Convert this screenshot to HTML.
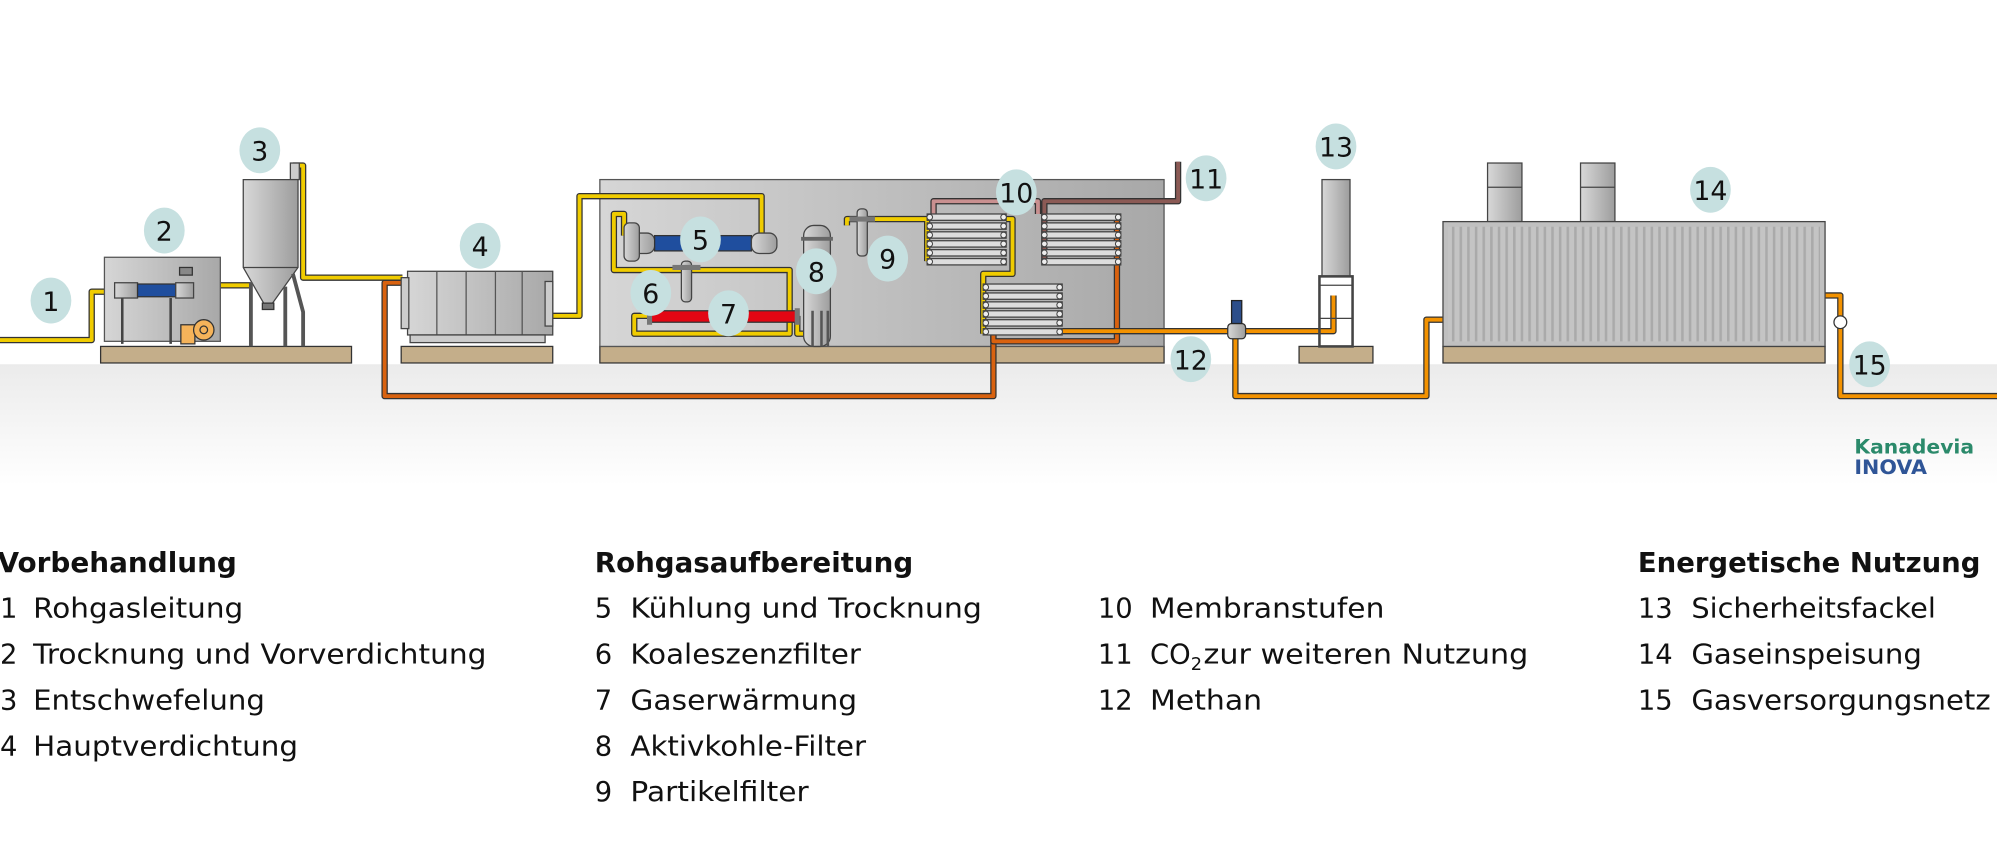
<!DOCTYPE html>
<html><head><meta charset="utf-8"><style>
html,body{margin:0;padding:0;background:#fff;}
svg{display:block;}
text{font-family:"DejaVu Sans","Liberation Sans",sans-serif;}
</style></head><body>
<svg width="1997" height="849" viewBox="0 0 1568 666.6" preserveAspectRatio="none" xmlns="http://www.w3.org/2000/svg">
<defs>
<linearGradient id="gnd" x1="0" y1="0" x2="0" y2="1"><stop offset="0" stop-color="#ebebeb"/><stop offset="1" stop-color="#fff"/></linearGradient>
<linearGradient id="met" x1="0" y1="0" x2="1" y2="0"><stop offset="0" stop-color="#d8d8d8"/><stop offset="1" stop-color="#9d9d9d"/></linearGradient>
<linearGradient id="box" x1="0" y1="0" x2="1" y2="0"><stop offset="0" stop-color="#d6d6d6"/><stop offset="1" stop-color="#a8a8a8"/></linearGradient>
<pattern id="rib" width="6" height="10" patternUnits="userSpaceOnUse"><rect width="6" height="10" fill="#c4c4c4"/><rect width="2" height="10" fill="#aaa"/></pattern>
<g id="mem">
<g fill="#ddd" stroke="#444" stroke-width="1">
<rect x="0" y="0" width="62" height="5"/><rect x="0" y="7" width="62" height="5"/><rect x="0" y="14" width="62" height="5"/><rect x="0" y="21" width="62" height="5"/><rect x="0" y="28" width="62" height="5"/><rect x="0" y="35" width="62" height="5"/>
</g>
<g fill="#eee" stroke="#444" stroke-width="0.8">
<circle cx="2" cy="2.5" r="2.2"/><circle cx="2" cy="9.5" r="2.2"/><circle cx="2" cy="16.5" r="2.2"/><circle cx="2" cy="23.5" r="2.2"/><circle cx="2" cy="30.5" r="2.2"/><circle cx="2" cy="37.5" r="2.2"/>
<circle cx="60" cy="2.5" r="2.2"/><circle cx="60" cy="9.5" r="2.2"/><circle cx="60" cy="16.5" r="2.2"/><circle cx="60" cy="23.5" r="2.2"/><circle cx="60" cy="30.5" r="2.2"/><circle cx="60" cy="37.5" r="2.2"/>
</g></g>
</defs>
<rect x="0" y="286" width="1568" height="95" fill="url(#gnd)"/>

<g fill="#c4ae8a" stroke="#333" stroke-width="1">
<rect x="79" y="272" width="197" height="13"/>
<rect x="315" y="272" width="119" height="13"/>
<rect x="471" y="272" width="443" height="13"/>
<rect x="1020" y="272" width="58" height="13"/>
<rect x="1133" y="272" width="300" height="13"/>
</g>

<rect x="471" y="141" width="443" height="131" fill="url(#box)" stroke="#555" stroke-width="1"/>

<g fill="none" stroke-linejoin="round">
<path d="M316 222 H302 V311 H780 V262" stroke="#333" stroke-width="5"/>
<path d="M316 222 H302 V311 H780 V262" stroke="#d9620f" stroke-width="3"/>
<path d="M780 262 V268 H877 V170" stroke="#333" stroke-width="5"/>
<path d="M780 262 V268 H877 V170" stroke="#d9620f" stroke-width="3"/>
<path d="M832 260 H1040 M1040 260 H1047 V232 M970 260 V311 H1120 V251 H1133 M1433 232 H1445 V311 H1568" stroke="#333" stroke-width="5"/>
<path d="M832 260 H1040 M1040 260 H1047 V232 M970 260 V311 H1120 V251 H1133 M1433 232 H1445 V311 H1568" stroke="#f39200" stroke-width="3"/>
<path d="M925 127 V158 H820 V205 M733 168 V158 H815 V168" stroke="#333" stroke-width="5"/>
<path d="M925 127 V158 H820 V205" stroke="#8b5a55" stroke-width="3"/>
<path d="M733 168 V158 H815 V168" stroke="#c99090" stroke-width="3"/>
<path d="M0 267 H72 V229 H90 M150 212 H155 V258 M165 258 V224 H197 M230 130 H238 V218 H316 M434 248 H455 V154 H598 V183 M490 185 V168 H482 V212 H620 V228 M620 228 V262 H498 V248 H510 M626 248 V262 H632 M665 177 V172 H728 M728 172 V205 M790 172 H795 V215 H772 V262" stroke="#333" stroke-width="5"/>
<path d="M0 267 H72 V229 H90 M150 212 H155 V258 M165 258 V224 H197 M230 130 H238 V218 H316 M434 248 H455 V154 H598 V183 M490 185 V168 H482 V212 H620 V228 M620 228 V262 H498 V248 H510 M626 248 V262 H632 M665 177 V172 H728 M728 172 V205 M790 172 H795 V215 H772 V262" stroke="#f0cc00" stroke-width="3"/>
</g>

<rect x="82" y="202" width="91" height="66" fill="url(#box)" stroke="#555"/>
<rect x="90" y="222" width="18" height="12" fill="url(#met)" stroke="#444"/>
<rect x="108" y="223" width="30" height="10" fill="#1f4e9e" stroke="#333"/>
<rect x="138" y="222" width="14" height="12" fill="url(#met)" stroke="#444"/>
<rect x="141" y="210" width="10" height="6" fill="#888" stroke="#333"/>
<line x1="96" y1="234" x2="96" y2="270" stroke="#444" stroke-width="2"/>
<line x1="134" y1="234" x2="134" y2="270" stroke="#444" stroke-width="2"/>
<rect x="142" y="255" width="11" height="15" fill="#f5b35a" stroke="#333"/>
<circle cx="160" cy="259" r="8" fill="#f5b35a" stroke="#333"/>
<circle cx="160" cy="259" r="3" fill="none" stroke="#333"/>

<rect x="228" y="128" width="7" height="13" fill="#ccc" stroke="#444"/>
<path d="M191 141 H234 V210 L214 238 H207 L191 210 Z" fill="url(#met)" stroke="#444"/>
<line x1="191" y1="210" x2="234" y2="210" stroke="#444"/>
<rect x="206" y="238" width="9" height="5" fill="#777" stroke="#333"/>
<g stroke="#555" stroke-width="3" fill="none"><path d="M197 222 V272 M224 225 V272 M230 215 L238 245 V272"/></g>

<rect x="405" y="233" width="10" height="30" fill="#bbb"/>
<rect x="320" y="213" width="114" height="50" fill="url(#box)" stroke="#444"/>
<rect x="315" y="218" width="6" height="40" fill="#ccc" stroke="#444"/>
<rect x="428" y="221" width="6" height="35" fill="#ccc" stroke="#444"/>
<g stroke="#555"><line x1="343" y1="213" x2="343" y2="263"/><line x1="366" y1="213" x2="366" y2="263"/><line x1="389" y1="213" x2="389" y2="263"/><line x1="410" y1="213" x2="410" y2="263"/></g>
<rect x="322" y="263" width="106" height="6" fill="#ccc" stroke="#444"/>

<rect x="494" y="183" width="20" height="16" rx="6" fill="url(#met)" stroke="#444"/>
<rect x="490" y="175" width="12" height="30" rx="4" fill="url(#met)" stroke="#444"/>
<rect x="514" y="185" width="76" height="12" fill="#1f4e9e" stroke="#333"/>
<rect x="590" y="183" width="20" height="16" rx="6" fill="url(#met)" stroke="#444"/>
<rect x="535" y="205" width="8" height="32" rx="3" fill="url(#met)" stroke="#444"/>
<rect x="528" y="208" width="22" height="4" fill="#777"/>
<rect x="510" y="244" width="117" height="9" fill="#e30613" stroke="#333"/>
<rect x="508" y="242" width="4" height="13" fill="#777"/>
<rect x="624" y="242" width="4" height="13" fill="#777"/>
<rect x="631" y="177" width="21" height="95" rx="8" fill="url(#met)" stroke="#444"/>
<rect x="629" y="186" width="25" height="3" fill="#666"/>
<g stroke="#555" stroke-width="2"><line x1="638" y1="244" x2="638" y2="272"/><line x1="645" y1="244" x2="645" y2="272"/><line x1="650" y1="244" x2="650" y2="272"/></g>
<rect x="673" y="164" width="8" height="37" rx="3" fill="url(#met)" stroke="#444"/>
<rect x="667" y="170" width="20" height="4" fill="#777"/>

<use href="#mem" x="728" y="168"/>
<use href="#mem" x="818" y="168"/>
<use href="#mem" x="772" y="223"/>

<rect x="964" y="254" width="14" height="12" rx="3" fill="url(#met)" stroke="#333"/>
<rect x="967" y="236" width="8" height="18" fill="#2d4e8a" stroke="#222"/>
<rect x="1038" y="141" width="22" height="76" fill="url(#met)" stroke="#444"/>
<rect x="1036" y="217" width="26" height="55" fill="none" stroke="#444" stroke-width="2"/>
<line x1="1036" y1="224" x2="1062" y2="224" stroke="#444"/>
<line x1="1036" y1="250" x2="1062" y2="250" stroke="#444"/>
<rect x="1168" y="128" width="27" height="46" fill="url(#met)" stroke="#444"/>
<rect x="1241" y="128" width="27" height="46" fill="url(#met)" stroke="#444"/>
<line x1="1168" y1="147" x2="1195" y2="147" stroke="#444"/>
<line x1="1241" y1="147" x2="1268" y2="147" stroke="#444"/>
<rect x="1133" y="174" width="300" height="98" fill="#c0c0c0" stroke="#444"/>
<rect x="1137" y="178" width="292" height="90" fill="url(#rib)"/>
<circle cx="1445" cy="253" r="5" fill="#fff" stroke="#333"/>

<g fill="#c6e0e0">
<ellipse cx="40" cy="236" rx="16" ry="18"/><ellipse cx="129" cy="181" rx="16" ry="18"/><ellipse cx="204" cy="118" rx="16" ry="18"/><ellipse cx="377" cy="193" rx="16" ry="18"/><ellipse cx="550" cy="188" rx="16" ry="18"/><ellipse cx="511" cy="230" rx="16" ry="18"/><ellipse cx="572" cy="246" rx="16" ry="18"/><ellipse cx="641" cy="213" rx="16" ry="18"/><ellipse cx="697" cy="203" rx="16" ry="18"/><ellipse cx="798" cy="151" rx="16" ry="18"/><ellipse cx="947" cy="140" rx="16" ry="18"/><ellipse cx="935" cy="282" rx="16" ry="18"/><ellipse cx="1049" cy="115" rx="16" ry="18"/><ellipse cx="1343" cy="149" rx="16" ry="18"/><ellipse cx="1468" cy="286" rx="16" ry="18"/>
</g>
<g font-size="21" text-anchor="middle" fill="#111">
<text x="40" y="244">1</text><text x="129" y="189">2</text><text x="204" y="126">3</text><text x="377" y="201">4</text><text x="550" y="196">5</text><text x="511" y="238">6</text><text x="572" y="254">7</text><text x="641" y="221">8</text><text x="697" y="211">9</text><text x="798" y="159">10</text><text x="947" y="148">11</text><text x="935" y="290">12</text><text x="1049" y="123">13</text><text x="1343" y="157">14</text><text x="1468" y="294">15</text>
</g>

<text x="1456" y="356" font-size="15" font-weight="bold" fill="#2b8a6b" textLength="94" lengthAdjust="spacingAndGlyphs">Kanadevia</text>
<text x="1456" y="372" font-size="15" font-weight="bold" fill="#2f5597" textLength="57" lengthAdjust="spacingAndGlyphs">INOVA</text>

<g font-size="21.5" fill="#111" lengthAdjust="spacingAndGlyphs">
<text x="-2" y="449" font-weight="bold" textLength="188" lengthAdjust="spacingAndGlyphs">Vorbehandlung</text>
<text x="0" y="485">1</text><text x="26" y="485" textLength="165" lengthAdjust="spacingAndGlyphs">Rohgasleitung</text>
<text x="0" y="521">2</text><text x="26" y="521" textLength="356" lengthAdjust="spacingAndGlyphs">Trocknung und Vorverdichtung</text>
<text x="0" y="557">3</text><text x="26" y="557" textLength="182" lengthAdjust="spacingAndGlyphs">Entschwefelung</text>
<text x="0" y="593">4</text><text x="26" y="593" textLength="208" lengthAdjust="spacingAndGlyphs">Hauptverdichtung</text>
<text x="467" y="449" font-weight="bold" textLength="250" lengthAdjust="spacingAndGlyphs">Rohgasaufbereitung</text>
<text x="467" y="485">5</text><text x="495" y="485" textLength="276" lengthAdjust="spacingAndGlyphs">Kühlung und Trocknung</text>
<text x="467" y="521">6</text><text x="495" y="521" textLength="181" lengthAdjust="spacingAndGlyphs">Koaleszenzfilter</text>
<text x="467" y="557">7</text><text x="495" y="557" textLength="178" lengthAdjust="spacingAndGlyphs">Gaserwärmung</text>
<text x="467" y="593">8</text><text x="495" y="593" textLength="185" lengthAdjust="spacingAndGlyphs">Aktivkohle-Filter</text>
<text x="467" y="629">9</text><text x="495" y="629" textLength="140" lengthAdjust="spacingAndGlyphs">Partikelfilter</text>
<text x="862" y="485">10</text><text x="903" y="485" textLength="184" lengthAdjust="spacingAndGlyphs">Membranstufen</text>
<text x="862" y="521">11</text><text x="903" y="521">CO<tspan font-size="14" dy="5">2</tspan></text><text x="945" y="521" textLength="255" lengthAdjust="spacingAndGlyphs">zur weiteren Nutzung</text>
<text x="862" y="557">12</text><text x="903" y="557" textLength="88" lengthAdjust="spacingAndGlyphs">Methan</text>
<text x="1286" y="449" font-weight="bold" textLength="269" lengthAdjust="spacingAndGlyphs">Energetische Nutzung</text>
<text x="1286" y="485">13</text><text x="1328" y="485" textLength="192" lengthAdjust="spacingAndGlyphs">Sicherheitsfackel</text>
<text x="1286" y="521">14</text><text x="1328" y="521" textLength="181" lengthAdjust="spacingAndGlyphs">Gaseinspeisung</text>
<text x="1286" y="557">15</text><text x="1328" y="557" textLength="235" lengthAdjust="spacingAndGlyphs">Gasversorgungsnetz</text>
</g>
</svg>
</body></html>
